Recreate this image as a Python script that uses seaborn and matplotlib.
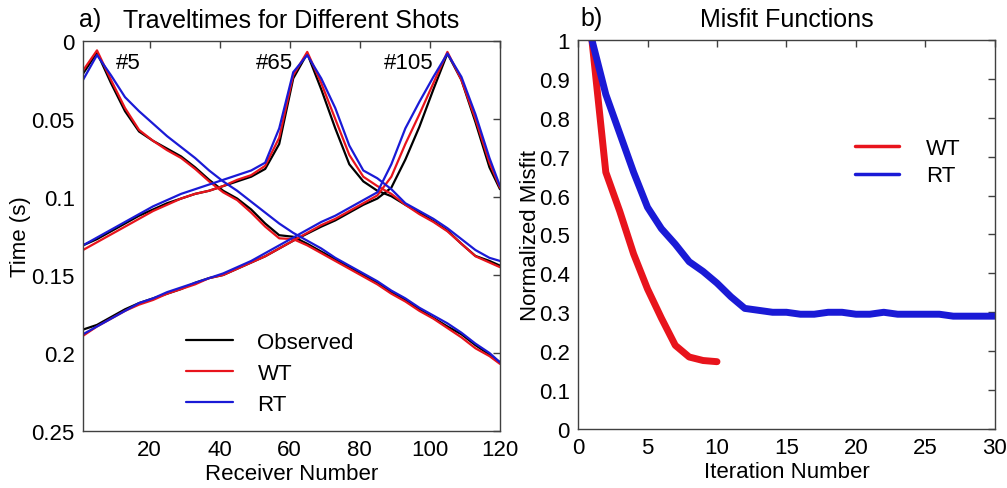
import numpy as np
import pandas as pd
import matplotlib
matplotlib.use("Agg")
import matplotlib.pyplot as plt
from matplotlib.ticker import FuncFormatter
import seaborn as sns

# receivers sampled every 4 (shots sit at 5, 65 and 105)
RECEIVERS = [1, 5, 9, 13, 17, 21, 25, 29, 33, 37, 41, 45, 49, 53, 57, 61,
             65, 69, 73, 77, 81, 85, 89, 93, 97, 101, 105, 109, 113, 117, 120]
SHOTS = ["#5", "#65", "#105"]
METHODS = ["Observed", "WT", "RT"]

# traveltimes (s)
obs_5 = [0.021, 0.0073, 0.027, 0.045, 0.058, 0.064, 0.069, 0.074, 0.081, 0.089, 0.096,
         0.101, 0.108, 0.117, 0.1245, 0.1255, 0.130, 0.135, 0.140, 0.145, 0.150, 0.155,
         0.161, 0.166, 0.172, 0.1775, 0.183, 0.188, 0.195, 0.201, 0.206]
wt_5 = [0.019, 0.006, 0.025, 0.043, 0.057, 0.064, 0.070, 0.075, 0.082, 0.090, 0.097,
        0.102, 0.110, 0.119, 0.1265, 0.127, 0.131, 0.136, 0.141, 0.146, 0.151, 0.156,
        0.162, 0.167, 0.173, 0.178, 0.184, 0.190, 0.197, 0.202, 0.207]
rt_5 = [0.025, 0.009, 0.022, 0.036, 0.045, 0.053, 0.061, 0.068, 0.075, 0.083, 0.090,
        0.096, 0.103, 0.110, 0.117, 0.123, 0.128, 0.133, 0.139, 0.144, 0.149, 0.154,
        0.160, 0.165, 0.171, 0.176, 0.181, 0.187, 0.194, 0.200, 0.206]

obs_65 = [0.131, 0.127, 0.122, 0.117, 0.112, 0.108, 0.104, 0.101, 0.098, 0.096, 0.093,
          0.090, 0.087, 0.082, 0.066, 0.024, 0.008, 0.031, 0.056, 0.079, 0.090, 0.096,
          0.0995, 0.105, 0.110, 0.1155, 0.1215, 0.130, 0.1378, 0.141, 0.144]
wt_65 = [0.134, 0.129, 0.124, 0.119, 0.114, 0.109, 0.105, 0.101, 0.098, 0.096, 0.093,
         0.089, 0.086, 0.080, 0.062, 0.022, 0.007, 0.027, 0.050, 0.073, 0.087, 0.093,
         0.098, 0.105, 0.111, 0.116, 0.122, 0.130, 0.138, 0.142, 0.145]
rt_65 = [0.131, 0.126, 0.121, 0.116, 0.111, 0.106, 0.102, 0.098, 0.095, 0.092, 0.089,
         0.086, 0.083, 0.078, 0.056, 0.020, 0.009, 0.024, 0.043, 0.067, 0.083, 0.088,
         0.095, 0.104, 0.109, 0.114, 0.120, 0.127, 0.134, 0.139, 0.141]

obs_105 = [0.185, 0.182, 0.177, 0.172, 0.168, 0.165, 0.162, 0.159, 0.155, 0.152, 0.150,
           0.146, 0.142, 0.138, 0.133, 0.128, 0.1235, 0.119, 0.115, 0.110, 0.105, 0.101,
           0.094, 0.076, 0.055, 0.031, 0.008, 0.025, 0.052, 0.081, 0.095]
wt_105 = [0.189, 0.183, 0.178, 0.173, 0.169, 0.166, 0.162, 0.159, 0.156, 0.152, 0.150,
          0.146, 0.142, 0.138, 0.133, 0.128, 0.123, 0.118, 0.114, 0.109, 0.104, 0.099,
          0.087, 0.066, 0.047, 0.027, 0.007, 0.025, 0.050, 0.078, 0.094]
rt_105 = [0.188, 0.183, 0.178, 0.173, 0.168, 0.165, 0.161, 0.158, 0.155, 0.152, 0.149,
          0.145, 0.141, 0.136, 0.131, 0.126, 0.121, 0.116, 0.112, 0.107, 0.102, 0.097,
          0.079, 0.056, 0.039, 0.023, 0.008, 0.023, 0.047, 0.075, 0.093]

# misfit vs iteration
ITER_WT = list(range(1, 11))
misfit_wt = [1.0, 0.66, 0.56, 0.45, 0.36, 0.285, 0.215, 0.185, 0.176, 0.173]
ITER_RT = list(range(1, 31))
misfit_rt = [1.0, 0.86, 0.76, 0.66, 0.57, 0.515, 0.475, 0.43, 0.405, 0.375, 0.34,
             0.31, 0.305, 0.30, 0.30, 0.295, 0.295, 0.30, 0.30, 0.295, 0.295, 0.30,
             0.295, 0.295, 0.295, 0.295, 0.29, 0.29, 0.29, 0.29]

COLORS = {"Observed": "black", "WT": "#e8141c", "RT": "#1a1ad6"}

tt = {
    ("#5", "Observed"): obs_5, ("#5", "WT"): wt_5, ("#5", "RT"): rt_5,
    ("#65", "Observed"): obs_65, ("#65", "WT"): wt_65, ("#65", "RT"): rt_65,
    ("#105", "Observed"): obs_105, ("#105", "WT"): wt_105, ("#105", "RT"): rt_105,
}
rows = []
for (shot, method), vals in tt.items():
    for r, t in zip(RECEIVERS, vals):
        rows.append({"receiver": r, "time": t, "shot": shot, "method": method})
df_tt = pd.DataFrame(rows)

df_mis = pd.concat([
    pd.DataFrame({"iteration": ITER_WT, "misfit": misfit_wt, "method": "WT"}),
    pd.DataFrame({"iteration": ITER_RT, "misfit": misfit_rt, "method": "RT"}),
])

sns.set_theme(style="white")
plt.rcParams["font.family"] = ["Liberation Sans", "DejaVu Sans"]
plt.rcParams.update({
    "axes.edgecolor": "#404040", "axes.linewidth": 1.0,
    "text.color": "black", "axes.labelcolor": "black",
    "xtick.color": "black", "ytick.color": "black",
})

fig = plt.figure(figsize=(10.07, 4.89), dpi=100)
ax1 = fig.add_axes([0.0824, 0.1166, 0.4141, 0.7975])
ax2 = fig.add_axes([0.574, 0.1207, 0.414, 0.7955])

# a) traveltimes
sns.lineplot(data=df_tt, x="receiver", y="time", hue="method", units="shot",
             estimator=None, palette=COLORS, hue_order=METHODS, linewidth=1.6,
             ax=ax1, legend=False)
ax1.set_xlim(1, 120)
ax1.set_ylim(0.25, 0)
ax1.set_xticks([20, 40, 60, 80, 100, 120])
ax1.set_yticks([0, 0.05, 0.1, 0.15, 0.2, 0.25])
ax1.yaxis.set_major_formatter(FuncFormatter(lambda v, p: f"{v:g}"))
ax1.set_xlabel("Receiver Number", fontsize=16, labelpad=2)
ax1.set_ylabel("Time (s)", fontsize=16, labelpad=0)
ax1.set_title("Traveltimes for Different Shots", fontsize=18, pad=10)
ax1.text(-0.01, 1.025, "a)", transform=ax1.transAxes, fontsize=18, va="bottom")
for label, r in zip(SHOTS, [10.3, 50.3, 86.9]):
    ax1.text(r, 0.0135, label, fontsize=16, va="center", ha="left")
handles = [plt.Line2D([], [], color=COLORS[m], lw=1.6) for m in METHODS]
ax1.legend(handles, METHODS, frameon=False, fontsize=16, loc="lower left",
           bbox_to_anchor=(0.2, -0.01), handlelength=2.1, handletextpad=1.1,
           labelspacing=0.45)

# b) misfit
sns.lineplot(data=df_mis, x="iteration", y="misfit", hue="method",
             palette=COLORS, hue_order=["WT", "RT"], linewidth=5, ax=ax2)
ax2.set_xlim(0, 30)
ax2.set_ylim(0, 1)
ax2.set_xticks(range(0, 31, 5))
ax2.set_yticks(np.arange(0, 1.01, 0.1))
ax2.yaxis.set_major_formatter(FuncFormatter(lambda v, p: f"{v:.1f}".rstrip("0").rstrip(".") if v else "0"))
ax2.set_xlabel("Iteration Number", fontsize=16, labelpad=2)
ax2.set_ylabel("Normalized Misfit", fontsize=16, labelpad=-2)
ax2.set_title("Misfit Functions", fontsize=18, pad=10)
ax2.text(0.005, 1.025, "b)", transform=ax2.transAxes, fontsize=18, va="bottom")
leg = ax2.legend(frameon=False, fontsize=16, loc="upper right",
                 bbox_to_anchor=(0.965, 0.8), handlelength=2.0, handletextpad=1.2,
                 labelspacing=0.3)
for h in leg.get_lines():
    h.set_linewidth(2.5)

for ax in (ax1, ax2):
    ax.tick_params(direction="in", top=True, right=True, length=5, width=1,
                   labelsize=16, color="#404040", pad=6)

fig.savefig("out.png", dpi=100)
